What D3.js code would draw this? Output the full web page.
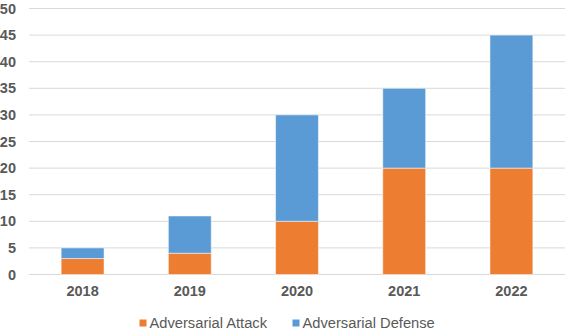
<!DOCTYPE html>
<html>
<head>
<meta charset="utf-8">
<script src="https://cdn.jsdelivr.net/npm/d3@7"></script>
<style>
  body { margin: 0; background: #fff; }
  svg { display: block; font-family: "Liberation Sans", Arial, sans-serif; }
  .axis text { fill: #595959; font-weight: bold; font-size: 14.5px; }
  .legend text { fill: #595959; font-size: 14.7px; }
</style>
</head>
<body>
<div id="chart"></div>
<script>
const years = ["2018", "2019", "2020", "2021", "2022"];
const attack = [3, 4, 10, 20, 20];
const defense = [2, 7, 20, 15, 25];
const seriesNames = ["Adversarial Attack", "Adversarial Defense"];
const colours = ["#ED7D31", "#5B9BD5"];
const yTicks = [0, 5, 10, 15, 20, 25, 30, 35, 40, 45, 50];

const width = 566, height = 332;

const svg = d3.select("#chart").append("svg")
    .attr("width", width)
    .attr("height", height);

const x = d3.scaleBand()
    .domain(years)
    .range([29, 565])
    .paddingInner(0.6)
    .paddingOuter(0.3);

const y = d3.scaleLinear()
    .domain([0, 50])
    .range([274.5, 8.5]);

// gridlines
svg.append("g")
    .selectAll("line")
    .data(yTicks)
    .enter()
    .append("line")
    .attr("x1", 29)
    .attr("x2", 565)
    .attr("y1", d => y(d))
    .attr("y2", d => y(d))
    .style("stroke", "#d9d9d9")
    .style("stroke-width", 1);

// y labels
const yAxis = d3.axisLeft(y).tickValues(yTicks).tickSize(0).tickPadding(0);
svg.append("g")
    .classed("axis", true)
    .attr("transform", "translate(16,0)")
    .call(yAxis)
    .call(g => g.select(".domain").remove());

// stacked bars
const table = years.map((yr, i) => ({ year: yr, attack: attack[i], defense: defense[i] }));
const stack = d3.stack().keys(["attack", "defense"])(table);

svg.append("g")
    .selectAll("g")
    .data(stack)
    .enter()
    .append("g")
    .style("fill", (d, i) => colours[i])
    .selectAll("rect")
    .data(d => d)
    .enter()
    .append("rect")
    .attr("x", d => x(d.data.year))
    .attr("width", x.bandwidth())
    .attr("y", d => y(d[1]))
    .attr("height", d => y(d[0]) - y(d[1]))
    .style("stroke", "#ffffff")
    .style("stroke-opacity", 0.5)
    .style("stroke-width", 1);

// x labels
const xAxis = d3.axisBottom(x).tickSize(0).tickPadding(0);
svg.append("g")
    .classed("axis", true)
    .attr("transform", "translate(0,286)")
    .call(xAxis)
    .call(g => g.select(".domain").remove());

// legend
const legend = svg.append("g").classed("legend", true);
const legendX = [139.5, 292.5];
seriesNames.forEach((name, i) => {
    legend.append("rect")
        .attr("x", legendX[i])
        .attr("y", 319.5)
        .attr("width", 7)
        .attr("height", 7)
        .style("fill", colours[i]);
    legend.append("text")
        .attr("x", legendX[i] + 10)
        .attr("y", 328)
        .text(name);
});
</script>
</body>
</html>
